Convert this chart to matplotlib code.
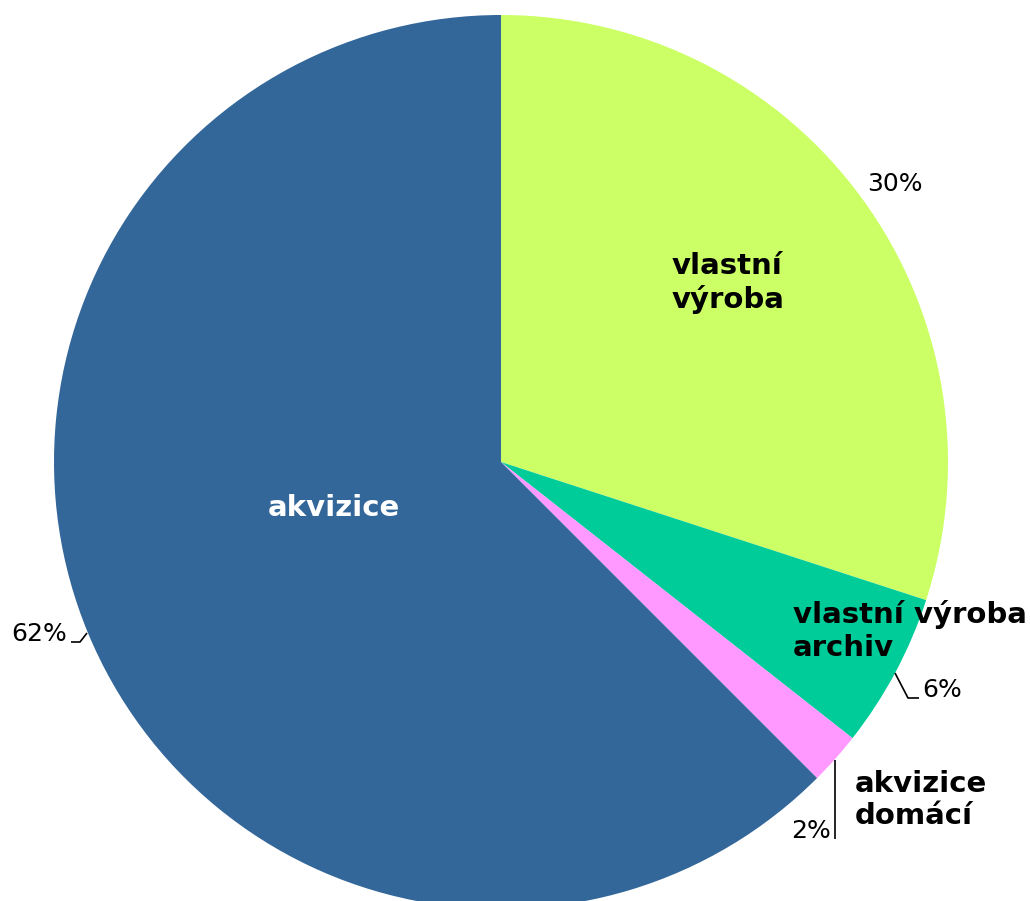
import matplotlib
matplotlib.use("Agg")
import matplotlib.pyplot as plt

categories = ["vlastní\nvýroba", "vlastní výroba\narchiv", "akvizice\ndomácí", "akvizice"]
values = [30.0, 5.6, 1.9, 62.5]
pct_labels = ["30%", "6%", "2%", "62%"]
colors = ["#CCFF66", "#00CC99", "#FF99FF", "#336699"]

W, H = 1030, 901
fig = plt.figure(figsize=(W / 100, H / 100), dpi=100)
ax = fig.add_axes([0, 0, 1, 1])

def P(x, y):
    return (x, H - y)

cx, cy = P(501, 462)
ax.pie(values, colors=colors, startangle=90, counterclock=False,
       center=(cx, cy), radius=447, wedgeprops=dict(linewidth=0))
ax.set_xlim(0, W)
ax.set_ylim(0, H)
ax.set_aspect("equal")
ax.axis("off")

font = "DejaVu Sans"
bold_size = 21
pct_size = 18

# category labels
ax.text(*P(672, 283), categories[0], ha="left", va="center", fontsize=bold_size,
        fontweight="bold", family=font, color="black", linespacing=1.22)
ax.text(*P(793, 631), categories[1], ha="left", va="center", fontsize=bold_size,
        fontweight="bold", family=font, color="black", linespacing=1.22)
ax.text(*P(855, 800), categories[2], ha="left", va="center", fontsize=bold_size,
        fontweight="bold", family=font, color="black", linespacing=1.22)
ax.text(*P(334, 508), categories[3], ha="center", va="center", fontsize=bold_size,
        fontweight="bold", family=font, color="white")

# percentage labels
ax.text(*P(867, 184), pct_labels[0], ha="left", va="center", fontsize=pct_size, family=font)
ax.text(*P(922, 690), pct_labels[1], ha="left", va="center", fontsize=pct_size, family=font)
ax.text(*P(831, 831), pct_labels[2], ha="right", va="center", fontsize=pct_size, family=font)
ax.text(*P(67, 634), pct_labels[3], ha="right", va="center", fontsize=pct_size, family=font)

# leader lines
def leader(pts):
    xs = [p[0] for p in pts]
    ys = [H - p[1] for p in pts]
    ax.plot(xs, ys, color="black", linewidth=1.2, solid_capstyle="butt")

leader([(895, 673), (908, 698), (919, 698)])
leader([(835, 760), (835, 839)])
leader([(87, 633), (80, 642), (71, 642)])

fig.savefig("out.png", dpi=100)
